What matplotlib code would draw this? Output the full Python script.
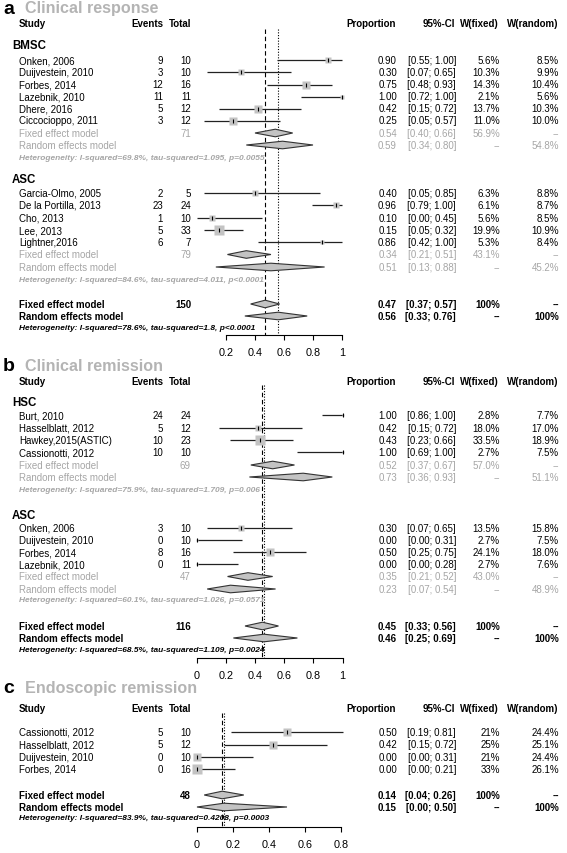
import numpy as np
import matplotlib.pyplot as plt
from matplotlib.patches import Polygon
from matplotlib.transforms import blended_transform_factory

plt.rcParams['font.family'] = ['Liberation Sans', 'DejaVu Sans']

# a: clinical response
a_bmsc_study = ['Onken, 2006', 'Duijvestein, 2010', 'Forbes, 2014', 'Lazebnik, 2010', 'Dhere, 2016', 'Ciccocioppo, 2011']
a_bmsc_events = [9, 3, 12, 11, 5, 3]
a_bmsc_total = [10, 10, 16, 11, 12, 12]
a_bmsc_prop = [0.90, 0.30, 0.75, 1.00, 0.42, 0.25]
a_bmsc_lo = [0.55, 0.07, 0.48, 0.72, 0.15, 0.05]
a_bmsc_hi = [1.00, 0.65, 0.93, 1.00, 0.72, 0.57]
a_bmsc_wfix = ['5.6%', '10.3%', '14.3%', '2.1%', '13.7%', '11.0%']
a_bmsc_wran = ['8.5%', '9.9%', '10.4%', '5.6%', '10.3%', '10.0%']
a_bmsc_fixed = [0.54, 0.40, 0.66]
a_bmsc_random = [0.59, 0.34, 0.80]
a_bmsc_n = 71
a_bmsc_w = ['56.9%', '54.8%']
a_bmsc_het = 'I-squared=69.8%, tau-squared=1.095, p=0.0055'

a_asc_study = ['Garcia-Olmo, 2005', 'De la Portilla, 2013', 'Cho, 2013', 'Lee, 2013', 'Lightner,2016']
a_asc_events = [2, 23, 1, 5, 6]
a_asc_total = [5, 24, 10, 33, 7]
a_asc_prop = [0.40, 0.96, 0.10, 0.15, 0.86]
a_asc_lo = [0.05, 0.79, 0.00, 0.05, 0.42]
a_asc_hi = [0.85, 1.00, 0.45, 0.32, 1.00]
a_asc_wfix = ['6.3%', '6.1%', '5.6%', '19.9%', '5.3%']
a_asc_wran = ['8.8%', '8.7%', '8.5%', '10.9%', '8.4%']
a_asc_fixed = [0.34, 0.21, 0.51]
a_asc_random = [0.51, 0.13, 0.88]
a_asc_n = 79
a_asc_w = ['43.1%', '45.2%']
a_asc_het = 'I-squared=84.6%, tau-squared=4.011, p<0.0001'

a_all_fixed = [0.47, 0.37, 0.57]
a_all_random = [0.56, 0.33, 0.76]
a_all_n = 150
a_all_het = 'I-squared=78.6%, tau-squared=1.8, p<0.0001'

# b: clinical remission
b_hsc_study = ['Burt, 2010', 'Hasselblatt, 2012', 'Hawkey,2015(ASTIC)', 'Cassionotti, 2012']
b_hsc_events = [24, 5, 10, 10]
b_hsc_total = [24, 12, 23, 10]
b_hsc_prop = [1.00, 0.42, 0.43, 1.00]
b_hsc_lo = [0.86, 0.15, 0.23, 0.69]
b_hsc_hi = [1.00, 0.72, 0.66, 1.00]
b_hsc_wfix = ['2.8%', '18.0%', '33.5%', '2.7%']
b_hsc_wran = ['7.7%', '17.0%', '18.9%', '7.5%']
b_hsc_fixed = [0.52, 0.37, 0.67]
b_hsc_random = [0.73, 0.36, 0.93]
b_hsc_n = 69
b_hsc_w = ['57.0%', '51.1%']
b_hsc_het = 'I-squared=75.9%, tau-squared=1.709, p=0.006'

b_asc_study = ['Onken, 2006', 'Duijvestein, 2010', 'Forbes, 2014', 'Lazebnik, 2010']
b_asc_events = [3, 0, 8, 0]
b_asc_total = [10, 10, 16, 11]
b_asc_prop = [0.30, 0.00, 0.50, 0.00]
b_asc_lo = [0.07, 0.00, 0.25, 0.00]
b_asc_hi = [0.65, 0.31, 0.75, 0.28]
b_asc_wfix = ['13.5%', '2.7%', '24.1%', '2.7%']
b_asc_wran = ['15.8%', '7.5%', '18.0%', '7.6%']
b_asc_fixed = [0.35, 0.21, 0.52]
b_asc_random = [0.23, 0.07, 0.54]
b_asc_n = 47
b_asc_w = ['43.0%', '48.9%']
b_asc_het = 'I-squared=60.1%, tau-squared=1.026, p=0.0571'

b_all_fixed = [0.45, 0.33, 0.56]
b_all_random = [0.46, 0.25, 0.69]
b_all_n = 116
b_all_het = 'I-squared=68.5%, tau-squared=1.109, p=0.0024'

# c: endoscopic remission
c_study = ['Cassionotti, 2012', 'Hasselblatt, 2012', 'Duijvestein, 2010', 'Forbes, 2014']
c_events = [5, 5, 0, 0]
c_total = [10, 12, 10, 16]
c_prop = [0.50, 0.42, 0.00, 0.00]
c_lo = [0.19, 0.15, 0.00, 0.00]
c_hi = [0.81, 0.72, 0.31, 0.21]
c_wfix = ['21%', '25%', '21%', '33%']
c_wran = ['24.4%', '25.1%', '24.4%', '26.1%']
c_all_fixed = [0.14, 0.04, 0.26]
c_all_random = [0.15, 0.00, 0.50]
c_all_n = 48
c_all_het = 'I-squared=83.9%, tau-squared=0.4208, p=0.0003'

W, H = 567, 854
fig = plt.figure(figsize=(W / 100, H / 100), dpi=100)

GREY = '#a6a6a6'
TGREY = '#b4b4b4'
BOX = '#c3c3c3'
FS = 7.0
X_GROUP, X_STUDY, X_EV, X_TOT = 12, 19, 163, 191
X_PROP, X_CI, X_WF, X_WR = 397, 456, 500, 559


def make_axes(top, bottom, x0, unit):
    ax = fig.add_axes([0, 1 - bottom / H, 1, (bottom - top) / H])
    ax.set_xlim(-x0 / unit, (W - x0) / unit)
    ax.set_ylim(bottom, top)
    ax.patch.set_visible(False)
    for s in ['top', 'left', 'right']:
        ax.spines[s].set_visible(False)
    ax.set_yticks([])
    return ax


def put(ax, x, y, s, ha='left', color='black', size=FS, weight='normal', style='normal'):
    tr = blended_transform_factory(ax.transAxes, ax.transData)
    ax.text(x / W, y, s, transform=tr, ha=ha, va='center', color=color,
            fontsize=size, fontweight=weight, fontstyle=style)


def header(ax, y, letter, title, yt):
    put(ax, 3, yt, letter, size=14, weight='bold')
    put(ax, 25, yt, title, color=TGREY, size=11.6, weight='bold')
    put(ax, X_STUDY, y, 'Study', weight='bold')
    put(ax, X_EV, y, 'Events', 'right', weight='bold')
    put(ax, X_TOT, y, 'Total', 'right', weight='bold')
    put(ax, X_PROP - 1, y, 'Proportion', 'right', weight='bold')
    put(ax, X_CI - 1, y, '95%-CI', 'right', weight='bold')
    put(ax, X_WF - 1, y, 'W(fixed)', 'right', weight='bold')
    put(ax, X_WR - 1, y, 'W(random)', 'right', weight='bold')


def studies(ax, ys, names, ev, tot, prop, lo, hi, wf, wr, wmax):
    for y, nm, e, n, p, l, h, f, r in zip(ys, names, ev, tot, prop, lo, hi, wf, wr):
        put(ax, X_STUDY, y, nm)
        put(ax, X_EV, y, str(e), 'right')
        put(ax, X_TOT, y, str(n), 'right')
        ax.hlines(y, l, h, color='#222222', lw=0.9, zorder=2)
        side = 9.5 * np.sqrt(float(f.rstrip('%')) / wmax) * 0.72
        ax.plot(p, y, 's', ms=side, color=BOX, mec='none', zorder=3)
        ax.plot(p, y, '|', ms=2.6, color='black', mew=0.8, zorder=4)
        put(ax, X_PROP, y, '%.2f' % p, 'right')
        put(ax, X_CI, y, '[%.2f; %.2f]' % (l, h), 'right')
        put(ax, X_WF, y, f, 'right')
        put(ax, X_WR, y, r, 'right')


def diamond(ax, y, est, lo, hi, hh=3.8):
    ax.add_patch(Polygon([[lo, y], [est, y - hh], [hi, y], [est, y + hh]], closed=True,
                         fc=BOX, ec='#333333', lw=0.8, zorder=3))


def summary(ax, yf, yr, yh, n, fixed, random, w, het, color, weight):
    put(ax, X_STUDY, yf, 'Fixed effect model', color=color, weight=weight)
    put(ax, X_TOT, yf, str(n), 'right', color=color, weight=weight)
    put(ax, X_STUDY, yr, 'Random effects model', color=color, weight=weight)
    for y, est, wfx, wrn in [(yf, fixed, w[0], '--'), (yr, random, '--', w[1])]:
        diamond(ax, y, est[0], est[1], est[2])
        put(ax, X_PROP, y, '%.2f' % est[0], 'right', color=color, weight=weight)
        put(ax, X_CI, y, '[%.2f; %.2f]' % (est[1], est[2]), 'right', color=color, weight=weight)
        put(ax, X_WF, y, wfx, 'right', color=color, weight=weight)
        put(ax, X_WR, y, wrn, 'right', color=color, weight=weight)
    put(ax, X_STUDY, yh, 'Heterogeneity: ' + het, color=color, size=6.0,
        weight='bold', style='italic')


def refs_axis(ax, fixed, random, ytop, yaxis, ticks, labels):
    ax.vlines(fixed, ytop, yaxis, color='black', lw=0.8, linestyles=(0, (4, 2.5)), zorder=1)
    ax.vlines(random, ytop, yaxis, color='black', lw=0.8, linestyles=(0, (1, 1.5)), zorder=1)
    ax.spines['bottom'].set_position(('data', yaxis))
    ax.spines['bottom'].set_bounds(ticks[0], ticks[-1])
    ax.spines['bottom'].set_linewidth(0.8)
    ax.set_xticks(ticks)
    ax.set_xticklabels(labels)
    ax.tick_params(axis='x', length=3.6, width=0.8, labelsize=7.8, pad=5, direction='out')


# panel a
ax = make_axes(0, 362, 197, 145)
header(ax, 24, 'a', 'Clinical response', 9)
put(ax, X_GROUP, 46, 'BMSC', size=8.3, weight='bold')
studies(ax, [61, 73, 85.5, 97.5, 109.5, 121.5], a_bmsc_study, a_bmsc_events, a_bmsc_total,
        a_bmsc_prop, a_bmsc_lo, a_bmsc_hi, a_bmsc_wfix, a_bmsc_wran, 19.9)
summary(ax, 134, 146, 158, a_bmsc_n, a_bmsc_fixed, a_bmsc_random, a_bmsc_w, a_bmsc_het, GREY, 'normal')
put(ax, X_GROUP, 180, 'ASC', size=8.3, weight='bold')
studies(ax, [194, 206, 218.5, 231, 243], a_asc_study, a_asc_events, a_asc_total,
        a_asc_prop, a_asc_lo, a_asc_hi, a_asc_wfix, a_asc_wran, 19.9)
summary(ax, 255.5, 268, 280, a_asc_n, a_asc_fixed, a_asc_random, a_asc_w, a_asc_het, GREY, 'normal')
summary(ax, 305, 317, 328, a_all_n, a_all_fixed, a_all_random, ['100%', '100%'], a_all_het, 'black', 'bold')
refs_axis(ax, a_all_fixed[0], a_all_random[0], 30, 336,
          [0.2, 0.4, 0.6, 0.8, 1.0], ['0.2', '0.4', '0.6', '0.8', '1'])

# panel b
ax = make_axes(362, 684, 197, 145.5)
header(ax, 382, 'b', 'Clinical remission', 366)
put(ax, X_GROUP, 403, 'HSC', size=8.3, weight='bold')
studies(ax, [416, 428.5, 441, 453], b_hsc_study, b_hsc_events, b_hsc_total,
        b_hsc_prop, b_hsc_lo, b_hsc_hi, b_hsc_wfix, b_hsc_wran, 33.5)
summary(ax, 466, 478, 490, b_hsc_n, b_hsc_fixed, b_hsc_random, b_hsc_w, b_hsc_het, GREY, 'normal')
put(ax, X_GROUP, 516, 'ASC', size=8.3, weight='bold')
studies(ax, [528.5, 541, 553, 565], b_asc_study, b_asc_events, b_asc_total,
        b_asc_prop, b_asc_lo, b_asc_hi, b_asc_wfix, b_asc_wran, 33.5)
summary(ax, 577.5, 590, 601, b_asc_n, b_asc_fixed, b_asc_random, b_asc_w, b_asc_het, GREY, 'normal')
summary(ax, 627, 639, 651, b_all_n, b_all_fixed, b_all_random, ['100%', '100%'], b_all_het, 'black', 'bold')
refs_axis(ax, b_all_fixed[0], b_all_random[0], 386, 659,
          [0, 0.2, 0.4, 0.6, 0.8, 1.0], ['0', '0.2', '0.4', '0.6', '0.8', '1'])

# panel c
ax = make_axes(684, 854, 197, 180)
header(ax, 709, 'c', 'Endoscopic remission', 689)
studies(ax, [733, 745.5, 758, 770], c_study, c_events, c_total,
        c_prop, c_lo, c_hi, c_wfix, c_wran, 33)
summary(ax, 796, 808, 819, c_all_n, c_all_fixed, c_all_random, ['100%', '100%'], c_all_het, 'black', 'bold')
refs_axis(ax, c_all_fixed[0], c_all_random[0], 714, 828,
          [0, 0.2, 0.4, 0.6, 0.8], ['0', '0.2', '0.4', '0.6', '0.8'])

fig.savefig('out.png', dpi=100)
